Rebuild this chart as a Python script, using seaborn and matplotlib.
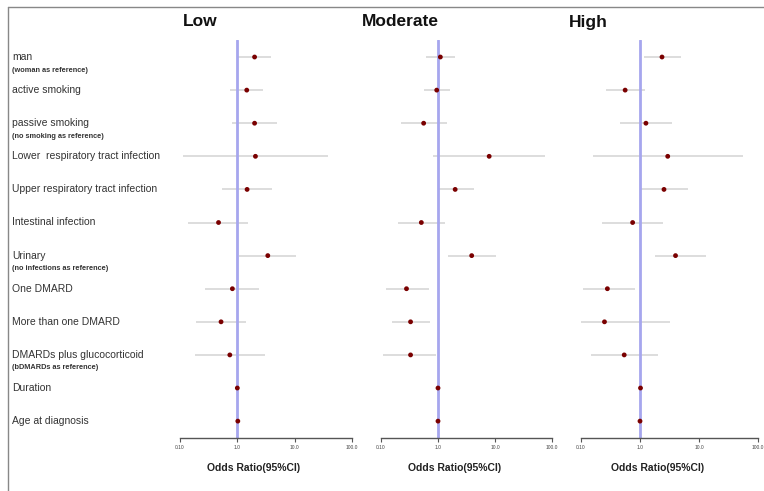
import numpy as np
import pandas as pd
import seaborn as sns
import matplotlib.pyplot as plt
from matplotlib.lines import Line2D

# ----------------------------- data -----------------------------
labels = ["man", "active smoking", "passive smoking",
          "Lower  respiratory tract infection", "Upper respiratory tract infection",
          "Intestinal infection", "Urinary", "One DMARD", "More than one DMARD",
          "DMARDs plus glucocorticoid", "Duration", "Age at diagnosis"]
sublabels = ["(woman as reference)", None, "(no smoking as reference)", None, None,
             None, "(no infections as reference)", None, None,
             "(bDMARDs as reference)", None, None]

panels = ["Low", "Moderate", "High"]

low_or = [2.0, 1.46, 2.0, 2.07, 1.48, 0.47, 3.4, 0.82, 0.52, 0.74, 1.0, 1.02]
low_lo = [1.0, 0.76, 0.8, 0.114, 0.54, 0.14, 1.08, 0.276, 0.19, 0.18, 0.98, 1.0]
low_hi = [3.9, 2.8, 4.9, 38.0, 4.0, 1.54, 10.6, 2.36, 1.42, 3.1, 1.02, 1.04]

mod_or = [1.1, 0.95, 0.56, 7.9, 2.0, 0.51, 3.9, 0.28, 0.33, 0.33, 1.0, 1.0]
mod_lo = [0.61, 0.56, 0.225, 0.82, 1.0, 0.20, 1.5, 0.12, 0.153, 0.107, 0.98, 0.98]
mod_hi = [2.0, 1.62, 1.42, 75.0, 4.3, 1.31, 10.5, 0.69, 0.72, 0.94, 1.02, 1.02]

high_or = [2.36, 0.56, 1.26, 2.95, 2.55, 0.75, 4.0, 0.28, 0.25, 0.54, 1.02, 1.0]
high_lo = [1.17, 0.265, 0.46, 0.16, 1.04, 0.23, 1.77, 0.11, 0.10, 0.15, 1.0, 0.98]
high_hi = [4.9, 1.23, 3.5, 55.0, 6.6, 2.45, 13.0, 0.82, 3.2, 2.0, 1.04, 1.02]

tick_vals = [0.1, 1, 10, 100]
tick_labels = ["0.10", "1.0", "10.0", "100.0"]

# ------------------------------------------------------------------------------
sns.set_style("white")
plt.rcParams['font.family'] = ['Liberation Sans', 'DejaVu Sans']

fig = plt.figure(figsize=(7.64, 4.91), dpi=100)

ax_pos = [(180 / 764, 0.4607 - 180 / 764),
          (381 / 764, 552 / 764 - 381 / 764),
          (581 / 764, 758 / 764 - 581 / 764)]
bottom = 1 - 438 / 491
height = (438 - 40) / 491

title_x = [200, 400, 588]

data = [(low_or, low_lo, low_hi), (mod_or, mod_lo, mod_hi), (high_or, high_lo, high_hi)]

for i, name in enumerate(panels):
    ax = fig.add_axes([ax_pos[i][0], bottom, ax_pos[i][1], height])
    odds, lo, hi = data[i]
    df = pd.DataFrame({"row": np.arange(len(labels)), "or": odds, "lo": lo, "hi": hi})

    # confidence intervals
    ax.hlines(df["row"], df["lo"], df["hi"], color="#dadada", lw=1.3, zorder=1)
    # reference line at OR = 1
    ax.axvline(1, color="#a6a6ee", lw=2, zorder=2)
    # point estimates
    sns.scatterplot(data=df, x="or", y="row", ax=ax, color="#7a0000", marker="o",
                    s=12, edgecolor="none", zorder=3, legend=False)

    ax.set_xscale("log")
    ax.set_xlim(0.1, 100)
    ax.set_ylim(11.51, -0.514)
    ax.set_yticks([])
    ax.set_xticks(tick_vals)
    ax.set_xticklabels(tick_labels)
    ax.minorticks_off()
    ax.tick_params(axis="x", labelsize=3.5, labelcolor="#444444", length=3,
                   width=0.8, color="#555555", direction="out", bottom=True, pad=2)
    for s in ["top", "right", "left"]:
        ax.spines[s].set_visible(False)
    ax.spines["bottom"].set_color("#555555")
    ax.spines["bottom"].set_linewidth(1)
    ax.set_xlabel("")
    ax.set_ylabel("")

    fig.text(title_x[i] / 764, 1 - 22 / 491, name, fontsize=12.5, fontweight="bold",
             ha="center", va="center", color="#111111")
    x_center = ax_pos[i][0] + ax_pos[i][1] * 0.43
    fig.text(x_center, 1 - 468 / 491, "Odds Ratio(95%CI)", fontsize=7.5,
             fontweight="bold", ha="center", va="center", color="#222222")

# row labels on the left
for j, lab in enumerate(labels):
    y = 57 + 33.09 * j
    fig.text(12 / 764, 1 - y / 491, lab, fontsize=7.5, ha="left", va="center",
             color="#333333")
    if sublabels[j] is not None:
        fig.text(12 / 764, 1 - (y + 13) / 491, sublabels[j], fontsize=5.3,
                 fontweight="bold", ha="left", va="center", color="#333333")

# thin frame at top and left
fig.add_artist(Line2D([8 / 764, 8 / 764], [0, 1 - 7 / 491], color="#888888", lw=1,
                      transform=fig.transFigure))
fig.add_artist(Line2D([8 / 764, 1], [1 - 7 / 491, 1 - 7 / 491], color="#888888", lw=1,
                      transform=fig.transFigure))

fig.savefig("out.png", dpi=100)
